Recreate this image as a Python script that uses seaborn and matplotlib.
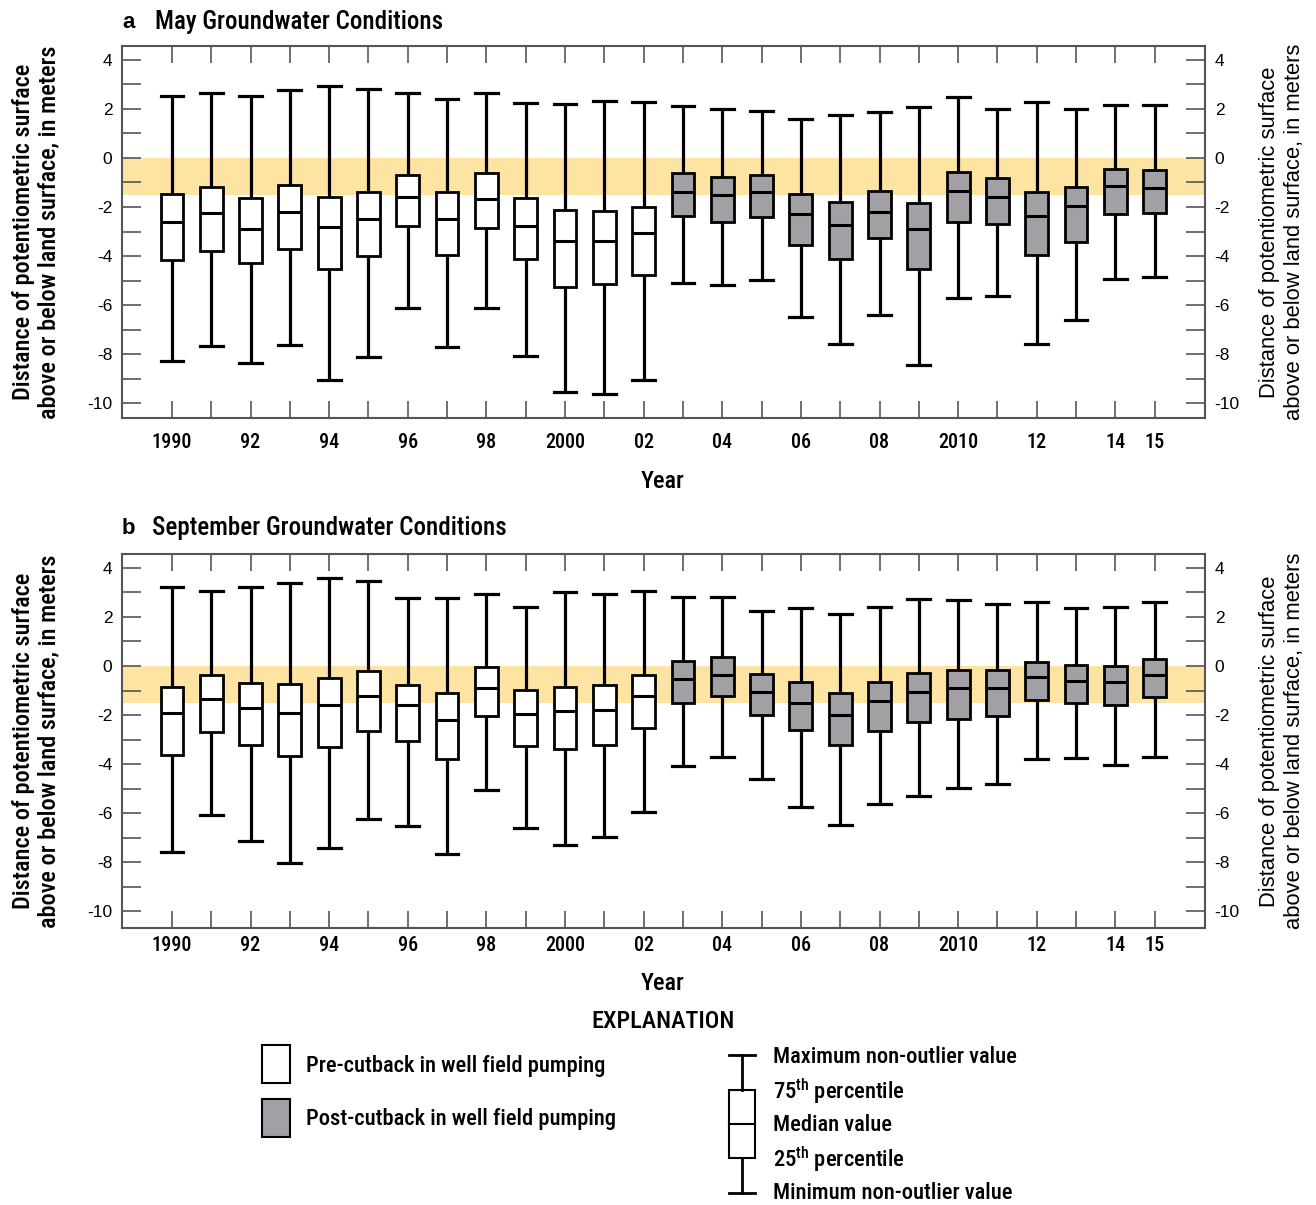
import matplotlib
matplotlib.use("Agg")
import matplotlib.pyplot as plt
import pandas as pd
import seaborn as sns
from matplotlib import font_manager
from matplotlib.patches import Rectangle

years = list(range(1990, 2016))
cutback_year = 2003
year_labels = ["1990", "", "92", "", "94", "", "96", "", "98", "", "2000", "", "02", "",
               "04", "", "06", "", "08", "", "2010", "", "12", "", "14", "15"]

# May groundwater conditions (meters)
may_max = [2.52, 2.67, 2.52, 2.78, 2.95, 2.80, 2.64, 2.41, 2.67, 2.24, 2.19, 2.33, 2.30,
           2.12, 2.00, 1.93, 1.61, 1.74, 1.88, 2.08, 2.48, 2.00, 2.27, 2.00, 2.15, 2.15]
may_q3 = [-1.47, -1.17, -1.65, -1.10, -1.58, -1.37, -0.69, -1.40, -0.60, -1.62, -2.14, -2.16, -2.01,
          -0.63, -0.78, -0.69, -1.48, -1.81, -1.35, -1.84, -0.56, -0.83, -1.40, -1.17, -0.44, -0.48]
may_med = [-2.63, -2.26, -2.90, -2.20, -2.83, -2.48, -1.58, -2.49, -1.67, -2.78, -3.39, -3.40, -3.07,
           -1.37, -1.51, -1.40, -2.27, -2.73, -2.19, -2.88, -1.35, -1.59, -2.38, -1.97, -1.14, -1.21]
may_q1 = [-4.18, -3.78, -4.30, -3.71, -4.54, -4.01, -2.79, -3.97, -2.87, -4.14, -5.25, -5.13, -4.78,
          -2.38, -2.61, -2.41, -3.54, -4.14, -3.27, -4.54, -2.61, -2.71, -3.97, -3.44, -2.27, -2.24]
may_min = [-8.27, -7.67, -8.38, -7.65, -9.07, -8.12, -6.14, -7.71, -6.14, -8.08, -9.55, -9.63, -9.05,
           -5.09, -5.17, -4.98, -6.48, -7.61, -6.41, -8.45, -5.73, -5.62, -7.61, -6.63, -4.94, -4.86]

# September groundwater conditions (meters)
sep_max = [3.21, 3.05, 3.21, 3.39, 3.59, 3.47, 2.78, 2.78, 2.95, 2.39, 3.01, 2.95, 3.07,
           2.82, 2.82, 2.26, 2.37, 2.11, 2.39, 2.75, 2.69, 2.53, 2.61, 2.37, 2.41, 2.61]
sep_q3 = [-0.84, -0.35, -0.68, -0.73, -0.49, -0.19, -0.78, -1.12, -0.05, -0.99, -0.87, -0.79, -0.35,
          0.22, 0.35, -0.31, -0.65, -1.10, -0.64, -0.27, -0.18, -0.18, 0.16, 0.04, 0.01, 0.27]
sep_med = [-1.93, -1.33, -1.71, -1.93, -1.59, -1.21, -1.59, -2.20, -0.90, -1.96, -1.85, -1.80, -1.22,
           -0.54, -0.35, -1.05, -1.51, -1.99, -1.44, -1.07, -0.91, -0.91, -0.45, -0.60, -0.67, -0.35]
sep_q1 = [-3.62, -2.69, -3.22, -3.67, -3.29, -2.67, -3.05, -3.81, -2.04, -3.25, -3.40, -3.21, -2.54,
          -1.51, -1.24, -1.99, -2.60, -3.24, -2.67, -2.27, -2.15, -2.03, -1.37, -1.51, -1.59, -1.27]
sep_min = [-7.58, -6.08, -7.16, -8.03, -7.43, -6.23, -6.52, -7.69, -5.07, -6.63, -7.29, -6.98, -5.95,
           -4.10, -3.70, -4.60, -5.77, -6.49, -5.63, -5.32, -4.98, -4.80, -3.81, -3.77, -4.03, -3.70]

band_low, band_high = -1.5, 0.0

GRAY = "#a0a1a6"
BAND = "#fee4a3"
AXIS_GRAY = "#555555"
W, H = 1316, 1205

# narrow face for most text, like the original's condensed type
installed = {f.name for f in font_manager.fontManager.ttflist}
COND = next((f for f in ["Roboto Condensed", "Archivo Narrow", "PT Sans Narrow",
                         "Fira Sans Condensed", "Liberation Sans Narrow"] if f in installed),
            "Liberation Sans")
ARIAL = "Liberation Sans"

plt.rcParams["font.family"] = [COND, "DejaVu Sans"]
plt.rcParams["font.weight"] = "medium"
plt.rcParams["mathtext.fontset"] = "custom"
plt.rcParams["mathtext.rm"] = f"{COND}:medium"


def long_form(stats):
    rows = []
    for i, yr in enumerate(years):
        period = "Pre" if yr < cutback_year else "Post"
        for arr in stats:
            rows.append({"year": yr, "value": arr[i], "period": period})
    return pd.DataFrame(rows)


def draw_panel(ax, df, ylim, xpad):
    sns.boxplot(
        data=df, x="year", y="value", hue="period", order=years,
        hue_order=["Pre", "Post"], palette={"Pre": "white", "Post": GRAY},
        dodge=False, whis=(0, 100), width=0.58, linecolor="black", linewidth=2,
        showfliers=False, legend=False, capwidths=0.58,
        whiskerprops={"linewidth": 2.3}, capprops={"linewidth": 2.3},
        medianprops={"linewidth": 2.2}, ax=ax,
    )
    ax.axhspan(band_low, band_high, color=BAND, lw=0, zorder=0)
    ax.set_xlim(-1.27, 26.28)
    ax.set_ylim(*ylim)
    yt = list(range(-10, 5))
    ax.set_yticks(yt)
    ax.set_yticklabels([str(v) if v % 2 == 0 else "" for v in yt])
    ax.set_xticks(range(len(years)))
    ax.set_xticklabels(year_labels)
    ax.tick_params(axis="x", direction="in", top=True, length=12, width=1.2,
                   color=AXIS_GRAY, labelsize=14.5, pad=xpad)
    ax.tick_params(axis="y", direction="in", right=True, labelright=True, length=14,
                   width=1.2, color=AXIS_GRAY, labelsize=12.5, pad=7)
    for lab in ax.get_yticklabels():
        lab.set_family(ARIAL)
    for s in ax.spines.values():
        s.set_color(AXIS_GRAY)
        s.set_linewidth(1.5)
    ax.set_xlabel("")
    ax.set_ylabel("")


may_df = long_form([may_min, may_q1, may_med, may_q3, may_max])
sep_df = long_form([sep_min, sep_q1, sep_med, sep_q3, sep_max])

fig = plt.figure(figsize=(W / 100, H / 100), dpi=100)
ax_a = fig.add_axes([122 / W, 1 - 418 / H, 1083 / W, 372 / H])
ax_b = fig.add_axes([122 / W, 1 - 928 / H, 1083 / W, 374 / H])
draw_panel(ax_a, may_df, (-10.61, 4.57), 11)
draw_panel(ax_b, sep_df, (-10.69, 4.57), 6)

ylab = "Distance of potentiometric surface\nabove or below land surface, in meters"
for ax in (ax_a, ax_b):
    pos = ax.get_position()
    yc = (pos.y0 + pos.y1) / 2
    fig.text(36 / W, yc, ylab, rotation=90, ha="center", va="center", fontsize=17.5,
             multialignment="center", linespacing=1.1)
    fig.text(1282 / W, yc, ylab, rotation=90, ha="center", va="center", fontsize=15.8,
             multialignment="center", linespacing=1.25, family=ARIAL)

fig.text(663 / W, 1 - 482 / H, "Year", fontsize=17.5, ha="center", va="center")
fig.text(663 / W, 1 - 984 / H, "Year", fontsize=17.5, ha="center", va="center")

fig.text(122 / W, 1 - 23 / H, "a", fontsize=16, fontweight="bold", family=ARIAL, va="center")
fig.text(155 / W, 1 - 22 / H, "May Groundwater Conditions", fontsize=18, va="center")
fig.text(122 / W, 1 - 529 / H, "b", fontsize=16, fontweight="bold", family=ARIAL, va="center")
fig.text(152 / W, 1 - 528 / H, "September Groundwater Conditions", fontsize=18, va="center")

# explanation
lax = fig.add_axes([0, 0, 1, 1])
lax.set_xlim(0, W)
lax.set_ylim(H, 0)
lax.axis("off")
lax.text(663, 1022, "EXPLANATION", fontsize=17.5, ha="center", va="center")
lax.add_patch(Rectangle((262, 1045), 28, 38, fc="white", ec="black", lw=1.5))
lax.add_patch(Rectangle((262, 1099), 28, 38, fc=GRAY, ec="black", lw=1.5))
lax.text(306, 1066, "Pre-cutback in well field pumping", fontsize=16.2, va="center")
lax.text(306, 1119, "Post-cutback in well field pumping", fontsize=16.2, va="center")

cx = 742
lax.plot([cx, cx], [1055, 1090], color="black", lw=2)
lax.plot([cx, cx], [1158, 1193], color="black", lw=2)
lax.plot([cx - 13, cx + 13], [1055, 1055], color="black", lw=2)
lax.plot([cx - 13, cx + 13], [1193, 1193], color="black", lw=2)
lax.add_patch(Rectangle((729, 1090), 26, 68, fc="white", ec="black", lw=1.5))
lax.plot([729, 755], [1124, 1124], color="black", lw=1.5)
for yy, txt in [(1057, "Maximum non-outlier value"), (1091, "75$^{\\mathrm{th}}$ percentile"),
                (1125, "Median value"), (1159, "25$^{\\mathrm{th}}$ percentile"),
                (1193, "Minimum non-outlier value")]:
    lax.text(773, yy, txt, fontsize=16.2, va="center")

fig.savefig("out.png", dpi=100)
